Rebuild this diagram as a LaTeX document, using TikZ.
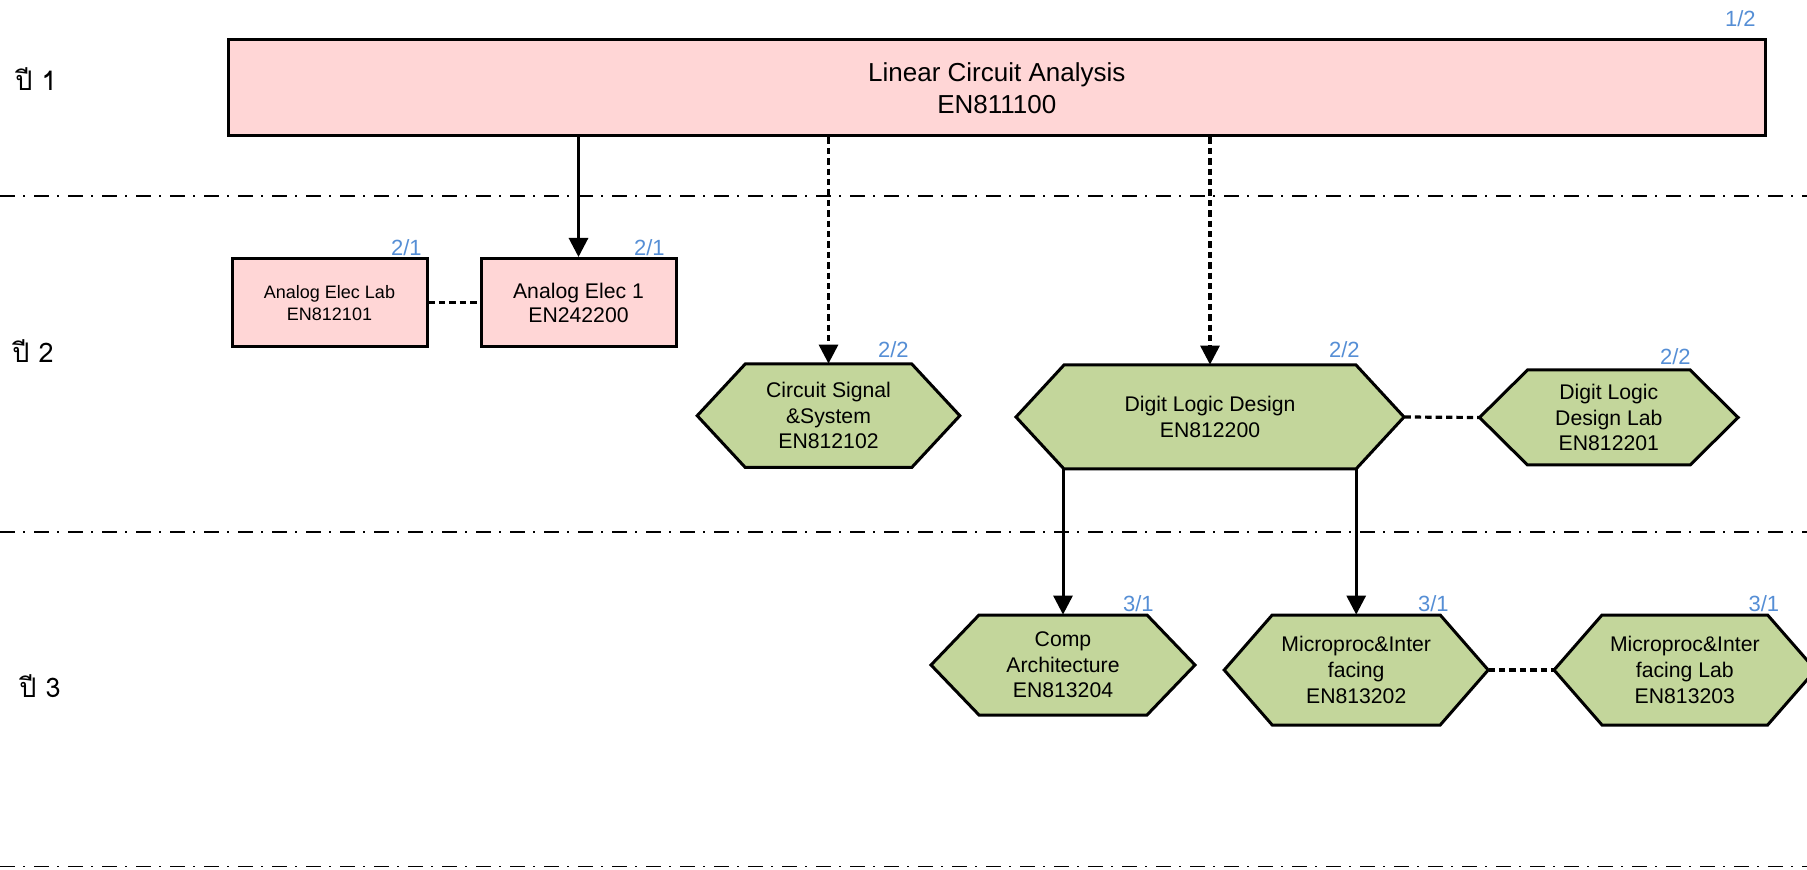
\documentclass[tikz,border=0pt]{standalone}
\usepackage{fontspec}
\setmainfont{Liberation Sans}
\newfontfamily\thaifont[Script=Thai]{Loma}
\usetikzlibrary{arrows.meta}
\definecolor{coursepink}{RGB}{255,214,214}
\definecolor{coursegreen}{RGB}{195,214,155}
\definecolor{termblue}{RGB}{85,142,213}
\tikzset{
	course/.style={draw=black, line width=1.5pt, fill=coursepink, align=center, inner sep=0pt},
	hexline/.style={draw=black, line width=1.5pt, fill=coursegreen, line join=miter},
	hexbody/.style={inner sep=0pt, align=center, font=\fontsize{10.6pt}{12.8pt}\selectfont},
	term/.style={anchor=base east, inner sep=0pt, text=termblue, font=\fontsize{11pt}{13pt}\selectfont},
	year/.style={anchor=base west, inner sep=0pt, font=\thaifont\fontsize{13.5pt}{16pt}\selectfont},
	yearline/.style={line width=0.9pt, dash pattern=on 7.5pt off 4pt on 1pt off 4.5pt},
	prereq/.style={line width=1.5pt, -{Triangle[width=9.5pt,length=9.5pt]}},
	coreq/.style={line width=1.6pt, dash pattern=on 3.2pt off 2pt},
	coreqarrow/.style={coreq, -{Triangle[width=9.5pt,length=9.5pt]}},
}
% hexagon course: name, centre, half width and half height, text
\def\hexcourse(#1)(#2,#3)(#4,#5)#6{%
	\draw[hexline] ({#2-#4},#3) -- ({#2-#4+48},{#3-#5}) -- ({#2+#4-48},{#3-#5}) -- ({#2+#4},#3) -- ({#2+#4-48},{#3+#5}) -- ({#2-#4+48},{#3+#5}) -- cycle;
	\node[hexbody, minimum width={#4*1pt}, minimum height={#5*1pt}] (#1) at (#2,#3) {#6};
}

\begin{document}
\begin{tikzpicture}[x=0.5pt, y=-0.5pt]
			%%%%% START %%%%%
			\useasboundingbox (0,0) rectangle (1807,870);
			
			\draw[yearline] (0,196) -- (1807,196);
			\draw[yearline] (0,532) -- (1807,532);
			\draw[yearline] (0,866.5) -- (1807,866.5);
			
			\node[year] (y1) at (15,91) {ปี 1};
			\node[year] (y2) at (12,363) {ปี 2};
			\node[year] (y3) at (19,697) {ปี 3};
			
			% year 1
			\node[course, minimum width=768.25pt, minimum height=48pt, font=\fontsize{13pt}{16pt}\selectfont] (lca) at (996.75,88) {Linear Circuit Analysis\\EN811100};
			\node[term] (tlca) at (1756,27) {1/2};
			
			% year 2
			\node[course, minimum width=97.5pt, minimum height=44.25pt, font=\fontsize{9pt}{10.9pt}\selectfont] (ael) at (329.5,302.75) {Analog Elec Lab\\EN812101};
			\node[term] (tael) at (422,256) {2/1};
			\node[course, minimum width=97.5pt, minimum height=44.25pt, font=\fontsize{10.6pt}{12.2pt}\selectfont] (ae1) at (578.5,302.75) {Analog Elec 1\\EN242200};
			\node[term] (tae1) at (665,256) {2/1};
			
			\hexcourse(cs)(828.5,415.7)(131.3,51.7){Circuit Signal\\\&System\\EN812102}
			\node[term] (tcs) at (909,358) {2/2};
			\hexcourse(dld)(1210,417)(194,52){Digit Logic Design\\EN812200}
			\node[term] (tdld) at (1360,358) {2/2};
			\hexcourse(dldlab)(1608.8,417.5)(129.3,47.5){Digit Logic\\Design Lab\\EN812201}
			\node[term] (tdldlab) at (1691,365) {2/2};
			
			% year 3
			\hexcourse(ca)(1063,665)(132,50){Comp\\Architecture\\EN813204}
			\node[term] (tca) at (1154,611) {3/1};
			\hexcourse(mp)(1356.2,670)(132,55){Microproc\&Inter\\facing\\EN813202}
			\node[term] (tmp) at (1449,611) {3/1};
			\hexcourse(mplab)(1684.8,670)(130.8,55){Microproc\&Inter\\facing Lab\\EN813203}
			\node[term] (tmplab) at (1779.5,611) {3/1};
			
			% connectors
			\draw[prereq] (ae1.north |- lca.south) -- (ae1.north);
			\draw[coreqarrow] (cs.north |- lca.south) -- (cs.north);
			\draw[coreqarrow] (dld.north |- lca.south) -- (dld.north);
			\draw[coreq] (ael.east) -- (ae1.west);
			\draw[coreq] (dld.east) -- (dldlab.west);
			\draw[prereq] (ca.north |- dld.south) -- (ca.north);
			\draw[prereq] (mp.north |- dld.south) -- (mp.north);
			\draw[coreq] (mp.east) -- (mplab.west);
			%%%%% END %%%%%
\end{tikzpicture}
\end{document}
